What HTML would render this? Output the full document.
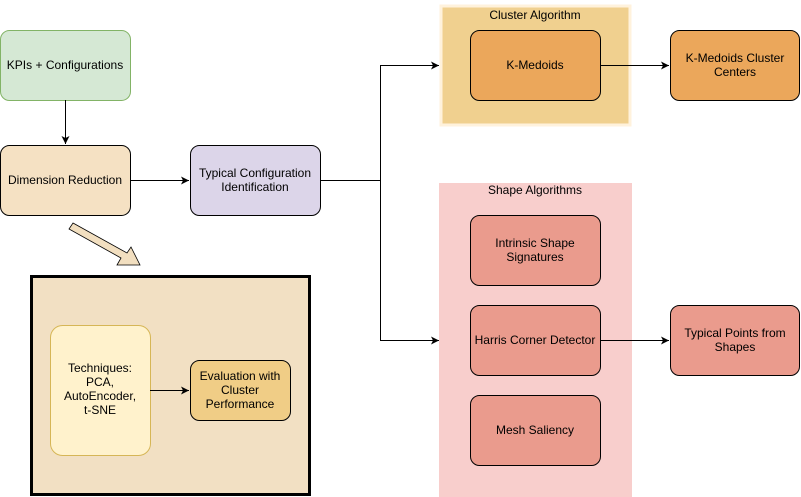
<!DOCTYPE html>
<html><head><meta charset="utf-8"><style>
html,body{margin:0;padding:0;background:#fff;}
svg{display:block;font-family:"Liberation Sans",Arial,sans-serif;font-size:12px;}
</style></head><body>
<svg width="801" height="497" viewBox="0 0 801 497" xmlns="http://www.w3.org/2000/svg">
<defs>
<marker id="a" markerWidth="10" markerHeight="10" refX="9" refY="5" orient="auto" markerUnits="userSpaceOnUse">
<path d="M1,1 L9,5 L1,9 L3,5 Z" fill="#000"/>
</marker>
</defs>
<!-- containers -->
<rect x="441" y="6" width="189" height="119" fill="#f0d08f" stroke="#fff2dc" stroke-width="3"/>
<text x="535" y="19" text-anchor="middle">Cluster Algorithm</text>
<rect x="439" y="183" width="193" height="314" fill="#f8cecc"/>
<text x="535" y="194" text-anchor="middle">Shape Algorithms</text>
<rect x="31.5" y="276.5" width="278" height="218" fill="#f2e0c3" stroke="#000" stroke-width="3"/>

<!-- nodes -->
<rect x="0.5" y="30.5" width="130" height="70" rx="9" fill="#d5e8d4" stroke="#82b366"/>
<text x="65" y="69" text-anchor="middle">KPIs + Configurations</text>
<rect x="0.5" y="145.5" width="130" height="70" rx="9" fill="#f5e1c3" stroke="#000"/>
<text x="65" y="184" text-anchor="middle">Dimension Reduction</text>
<rect x="190.5" y="145.5" width="130" height="70" rx="9" fill="#dcd5e9" stroke="#000"/>
<text x="255" y="177" text-anchor="middle">Typical Configuration</text>
<text x="255" y="191" text-anchor="middle">Identification</text>

<rect x="470.5" y="30.5" width="130" height="70" rx="9" fill="#eba75b" stroke="#000"/>
<text x="535" y="69" text-anchor="middle">K-Medoids</text>
<rect x="670.5" y="30.5" width="129" height="70" rx="9" fill="#eba75b" stroke="#000"/>
<text x="735" y="62" text-anchor="middle">K-Medoids Cluster</text>
<text x="735" y="76" text-anchor="middle">Centers</text>

<rect x="470.5" y="215.5" width="130" height="70" rx="9" fill="#ea9b8d" stroke="#000"/>
<text x="535" y="247" text-anchor="middle">Intrinsic Shape</text>
<text x="535" y="261" text-anchor="middle">Signatures</text>
<rect x="470.5" y="305.5" width="130" height="70" rx="9" fill="#ea9b8d" stroke="#000"/>
<text x="535" y="344" text-anchor="middle">Harris Corner Detector</text>
<rect x="470.5" y="395.5" width="130" height="70" rx="9" fill="#ea9b8d" stroke="#000"/>
<text x="535" y="434" text-anchor="middle">Mesh Saliency</text>
<rect x="670.5" y="305.5" width="129" height="70" rx="9" fill="#ea9b8d" stroke="#000"/>
<text x="735" y="337" text-anchor="middle">Typical Points from</text>
<text x="735" y="351" text-anchor="middle">Shapes</text>

<rect x="50.5" y="325.5" width="100" height="130" rx="12" fill="#fff2cc" stroke="#d6b656"/>
<text x="100" y="372" text-anchor="middle">Techniques:</text>
<text x="100" y="386" text-anchor="middle">PCA,</text>
<text x="100" y="400" text-anchor="middle">AutoEncoder,</text>
<text x="100" y="414" text-anchor="middle">t-SNE</text>
<rect x="190.5" y="360.5" width="100" height="60" rx="9" fill="#f0cd86" stroke="#000"/>
<text x="240" y="380" text-anchor="middle">Evaluation with</text>
<text x="240" y="394" text-anchor="middle">Cluster</text>
<text x="240" y="408" text-anchor="middle">Performance</text>

<!-- edges -->
<g stroke="#000" fill="none" stroke-width="1">
<line x1="65.5" y1="100" x2="65.5" y2="144" marker-end="url(#a)"/>
<line x1="130" y1="180.5" x2="189" y2="180.5" marker-end="url(#a)"/>
<path d="M320,180.5 H380.5 V65.5 H439" marker-end="url(#a)"/>
<path d="M380.5,180.5 V340.5 H439" marker-end="url(#a)"/>
<line x1="600" y1="65.5" x2="669" y2="65.5" marker-end="url(#a)"/>
<line x1="600" y1="340.5" x2="669" y2="340.5" marker-end="url(#a)"/>
<line x1="150" y1="390.5" x2="189" y2="390.5" marker-end="url(#a)"/>
</g>
<!-- block arrow -->
<path d="M73,223 L127,253 L131,247 L140,265 L117,265 L121,258 L69,229 Z" fill="#f2dfc0" stroke="#000" stroke-width="0.8"/>
</svg>
</body></html>
